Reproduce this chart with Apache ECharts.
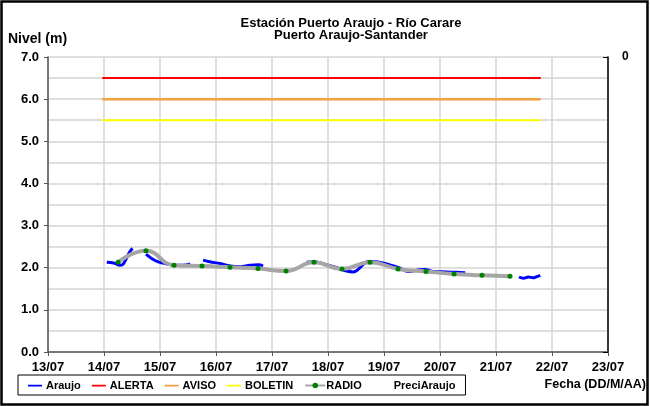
<!DOCTYPE html>
<html><head><meta charset="utf-8">
<script src="https://cdn.jsdelivr.net/npm/echarts@6/dist/echarts.min.js"></script>
<style>html,body{margin:0;padding:0;background:#fff}#c{width:650px;height:406px}</style>
</head><body><div id="c"></div>
<script>
// x values are day-of-month (July), fractional = time of day
const xTicks = [13,14,15,16,17,18,19,20,21,22,23];
const yTicks = [0,1,2,3,4,5,6,7];
const araujoDay = [14.05,14.17,14.29,14.34,14.40,14.46,14.51,null,14.75,14.85,14.97,15.12,15.27,15.40,15.54,null,15.77,15.89,16.07,16.25,16.43,16.61,16.76,16.84,null,17.62,17.74,17.92,18.16,18.21,18.33,18.45,18.54,18.63,18.72,18.87,19.02,19.17,19.29,19.43,19.64,19.73,19.88,20.12,20.30,20.45,null,21.41,21.49,21.58,21.66,21.73,21.79];
const araujoLevel = [2.13,2.11,2.06,2.08,2.22,2.38,2.46,null,2.32,2.22,2.14,2.09,2.06,2.06,2.09,null,2.18,2.14,2.10,2.04,2.02,2.06,2.07,2.04,null,2.13,2.14,2.09,2.00,1.97,1.92,1.90,1.96,2.08,2.15,2.14,2.10,2.04,1.99,1.91,1.95,1.96,1.91,1.90,1.89,1.88,null,1.78,1.75,1.78,1.76,1.79,1.82];
const radioDay = [14.25,14.75,15.25,15.75,16.25,16.75,17.25,17.75,18.25,18.75,19.25,19.75,20.25,20.75,21.25];
const radioLevel = [2.13,2.40,2.06,2.04,2.01,1.98,1.92,2.13,1.97,2.13,1.97,1.91,1.85,1.82,1.80];
const thresholdStart = 13.97, thresholdEnd = 21.80;
const alerta = 6.5, aviso = 6.0, boletin = 5.5;
const preciAraujo = [];

const FONT = 'Liberation Sans, Arial, sans-serif';
const chart = echarts.init(document.getElementById('c'), null, {renderer:'canvas'});
function pairs(xs, ys){ return xs.map((x,i)=> (x===null||ys[i]===null) ? '-' : [x, ys[i]]); }
function hline(v){ return [[thresholdStart, v],[thresholdEnd, v]]; }
const LINE_ICON = 'path://M0,0L0,0.01M0,4L20,4L20,6.4L0,6.4ZM20,10L20,10.01';

chart.setOption({
  animation:false,
  textStyle:{fontFamily:FONT},
  title:{
    text:'Estación Puerto Araujo - Río Carare\nPuerto Araujo-Santander',
    left:346, top:12, textAlign:'center',
    textStyle:{fontSize:13, fontWeight:'bold', color:'#000', lineHeight:12, fontFamily:FONT}
  },
  graphic:[
    {type:'rect', shape:{x:1.5,y:1.5,width:646,height:403}, style:{fill:'none', stroke:'#000', lineWidth:2.5}, silent:true, z:100},
    {type:'text', left:8, top:32, style:{text:'Nivel (m)', fontSize:14, fontWeight:'bold', fill:'#000', fontFamily:FONT}},
    {type:'text', right:4, top:378, style:{text:'Fecha (DD/M/AA)', fontSize:12.5, fontWeight:'bold', fill:'#000', fontFamily:FONT}}
  ],
  grid:{left:48, right:42, top:57, bottom:54, containLabel:false},
  legend:{
    left:18, top:375, padding:[5,10,4,10], itemGap:11, itemWidth:20, itemHeight:7,
    borderColor:'#000', borderWidth:1,
    textStyle:{fontSize:11, fontWeight:'bold', color:'#000', fontFamily:FONT, padding:[0,0,0,-4]},
    data:[
      {name:'Araujo', icon:LINE_ICON},{name:'ALERTA', icon:LINE_ICON},{name:'AVISO', icon:LINE_ICON},
      {name:'BOLETIN', icon:LINE_ICON},{name:'RADIO'},
      {name:'PreciAraujo', icon:'rect', itemStyle:{opacity:0}}
    ]
  },
  xAxis:{
    type:'value', min:xTicks[0], max:xTicks[xTicks.length-1], interval:1,
    axisLine:{onZero:false, lineStyle:{color:'#555', width:1.5}},
    axisTick:{show:true, length:4, lineStyle:{color:'#555'}},
    axisLabel:{margin:9, fontSize:13, fontWeight:'bold', color:'#000', fontFamily:FONT,
      formatter:v=> (v<10?'0':'')+v+'/07'},
    splitLine:{show:true, lineStyle:{color:'#d4d4d4', width:1.5}}
  },
  yAxis:[{
    type:'value', min:yTicks[0], max:yTicks[yTicks.length-1], interval:1,
    axisLine:{show:true, lineStyle:{color:'#555', width:1.5}},
    axisTick:{show:true, length:4, lineStyle:{color:'#555'}},
    axisLabel:{margin:9, fontSize:13, fontWeight:'bold', color:'#000', fontFamily:FONT, formatter:v=>v.toFixed(1)},
    splitLine:{show:true, lineStyle:{color:'#d4d4d4', width:1.5}},
    minorTick:{show:false, splitNumber:2},
    minorSplitLine:{show:true, lineStyle:{color:'#d4d4d4', width:1.5}}
  },{
    type:'value', position:'right', min:0, max:1, interval:1, inverse:true,
    axisLine:{show:true, lineStyle:{color:'#000', width:1.5}},
    axisTick:{show:true, inside:true, length:5, lineStyle:{color:'#000'}},
    axisLabel:{margin:14, fontSize:12, fontWeight:'bold', color:'#000', fontFamily:FONT, formatter:v=> v===0?'0':''},
    splitLine:{show:false}
  }],
  series:[
    {name:'Araujo', type:'line', data:pairs(araujoDay, araujoLevel), smooth:0.4, connectNulls:false,
      showSymbol:false, symbol:'none', lineStyle:{color:'#0000ff', width:3}, itemStyle:{color:'#0000ff'}, z:2},
    {name:'ALERTA', type:'line', data:hline(alerta), symbol:'none', lineStyle:{color:'#ff0000', width:2}, itemStyle:{color:'#ff0000'}, z:3},
    {name:'AVISO', type:'line', data:hline(aviso), symbol:'none', lineStyle:{color:'#f0a040', width:2.5}, itemStyle:{color:'#f0a040'}, z:3},
    {name:'BOLETIN', type:'line', data:hline(boletin), symbol:'none', lineStyle:{color:'#ffff00', width:2}, itemStyle:{color:'#ffff00'}, z:3},
    {name:'RADIO', type:'line', data:pairs(radioDay, radioLevel), smooth:0.5,
      symbol:'circle', symbolSize:5, showSymbol:true,
      lineStyle:{color:'#a6a6a6', width:4}, itemStyle:{color:'#008000', borderWidth:0}, z:4},
    {name:'PreciAraujo', type:'bar', yAxisIndex:1, data:preciAraujo, itemStyle:{color:'rgba(0,0,0,0)'}}
  ]
});
</script></body></html>
